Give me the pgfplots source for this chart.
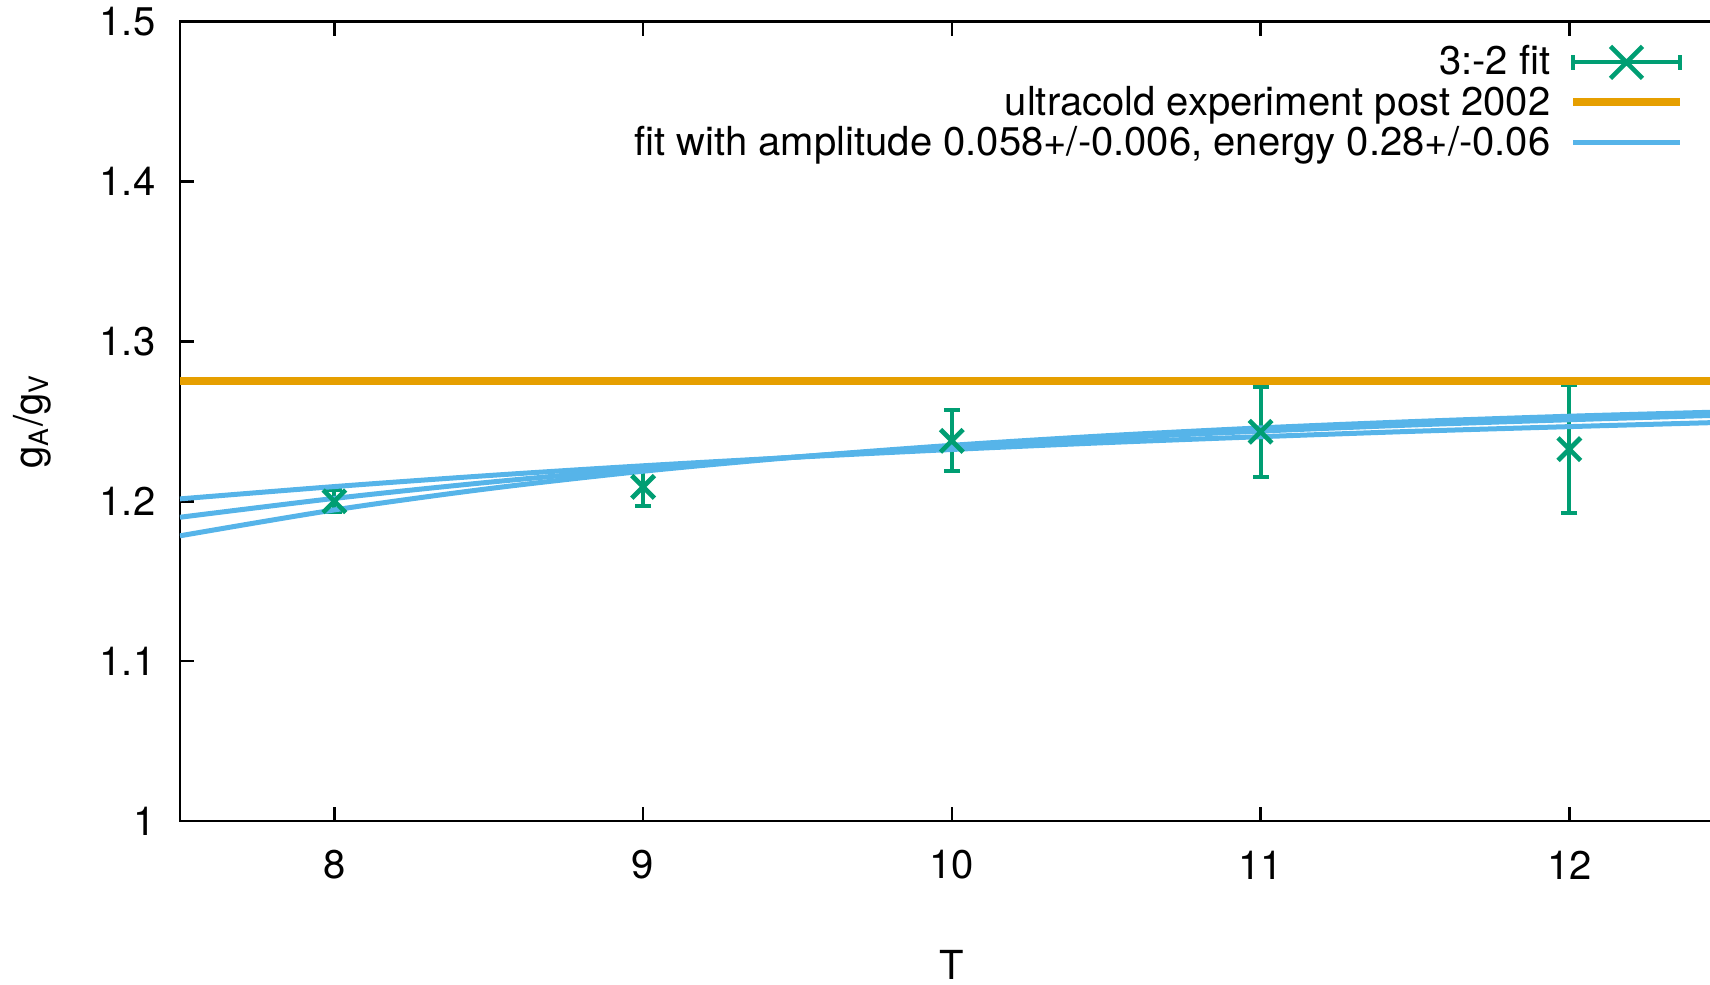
\documentclass[border=0pt]{standalone}
\usepackage{fontspec}
\setmainfont{TeX Gyre Heros}
\usepackage{pgfplots}
\pgfplotsset{compat=1.18}
\usetikzlibrary{calc}
\definecolor{fitgreen}{RGB}{0,158,115}
\definecolor{exporange}{RGB}{230,159,0}
\definecolor{bandblue}{RGB}{86,180,233}

\begin{document}
\begin{tikzpicture}[font=\fontsize{12}{14.4}\selectfont]
\begin{axis}[
  scale only axis, width=463.1pt, height=239.8pt,
  xmin=7.5, xmax=12.5, ymin=1, ymax=1.5,
  xtick={8,9,10,11,12}, ytick={1,1.1,1.2,1.3,1.4,1.5},
  yticklabels={1,1.1,1.2,1.3,1.4,1.5},
  /pgf/number format/assume math mode=true,
  axis line style={line width=0.8pt},
  major tick length=4.2pt,
  every tick/.style={black, line width=0.8pt},
  tick align=inside,
  xticklabel style={anchor=center, yshift=-13.2pt},
  yticklabel style={anchor=east, inner sep=0pt, xshift=-7.2pt},
  every axis x label/.style={at={(axis description cs:0.5,-0.180)}, anchor=center},
  every axis y label/.style={at={(axis description cs:-0.0955,0.5)}, anchor=center, rotate=90},
  xlabel={T},
  ylabel={g\textsubscript{A}/g\textsubscript{V}},
  legend style={draw=none, fill=none, at={(1,1)}, anchor=north east,
    xshift=-11.7pt, yshift=-6.5pt, row sep=0pt, column sep=5.6pt, inner sep=0pt,
    nodes={inner sep=0pt, text height=8.6pt, text depth=3.5pt}},
  legend cell align=right,
  legend plot pos=right,
]
\coordinate (sw) at (rel axis cs:0,0);

% lattice data with statistical errors
\addplot[fitgreen, line width=1.2pt, only marks, mark=x, mark size=4.8pt,
  mark options={line width=1.4pt},
  error bars/.cd, y dir=both, y explicit,
  error bar style={line width=1.2pt},
  error mark options={rotate=90, mark size=2.4pt, line width=1.2pt},
  /pgfplots/.cd,
  legend image code/.code={
    \draw[line width=1.2pt] (0pt,1.2pt) -- (32pt,1.2pt);
    \draw[line width=1.2pt] (0pt,-1pt) -- (0pt,3.4pt);
    \draw[line width=1.2pt] (32pt,-1pt) -- (32pt,3.4pt);
    \draw[line width=1.4pt] (16pt,1.2pt) +(-4.8pt,-4.8pt) -- +(4.8pt,4.8pt)
                                         +(-4.8pt,4.8pt) -- +(4.8pt,-4.8pt);
  }]
coordinates {
  (8,1.2000)  +- (0,0.007)
  (9,1.2090)  +- (0,0.012)
  (10,1.2378) +- (0,0.019)
  (11,1.2435) +- (0,0.028)
  (12,1.2326) +- (0,0.040)
};
\addlegendentry{3:-2 fit}

% experimental value
\addplot[exporange, line width=2.5pt,
  legend image code/.code={\draw (0pt,1.4pt) -- (32pt,1.4pt);}]
coordinates {(7.5,1.2754) (12.5,1.2754)};
\addlegendentry{ultracold experiment post 2002}

% excited-state fit: central curve and error band edges
\addplot[bandblue, line width=1.5pt, smooth,
  legend image code/.code={\draw (0pt,1.4pt) -- (32pt,1.4pt);}]
coordinates {
  (7.5,1.1900) (8.0,1.2018) (8.5,1.2119) (9.0,1.2205) (9.5,1.2278)
  (10.0,1.2341) (10.5,1.2394) (11.0,1.2439) (11.5,1.2478) (12.0,1.2510)
  (12.5,1.2539)
};
\addlegendentry{fit with amplitude 0.058+/-0.006, energy 0.28+/-0.06}
\addplot[bandblue, line width=1.5pt, smooth, forget plot]
coordinates {
  (7.5,1.2015) (8.0,1.2092) (8.5,1.2161) (9.0,1.2222) (9.5,1.2276)
  (10.0,1.2324) (10.5,1.2367) (11.0,1.2404) (11.5,1.2438) (12.0,1.2467)
  (12.5,1.2494)
};
\addplot[bandblue, line width=1.5pt, smooth, forget plot]
coordinates {
  (7.5,1.1784) (8.0,1.1946) (8.5,1.2079) (9.0,1.2188) (9.5,1.2277)
  (10.0,1.2350) (10.5,1.2410) (11.0,1.2459) (11.5,1.2499) (12.0,1.2532)
  (12.5,1.2559)
};
\end{axis}
\pgfresetboundingbox
\useasboundingbox ($(sw)+(-54pt,-48.9pt)$) rectangle ($(sw)+(459pt,246.3pt)$);
\end{tikzpicture}
\end{document}
